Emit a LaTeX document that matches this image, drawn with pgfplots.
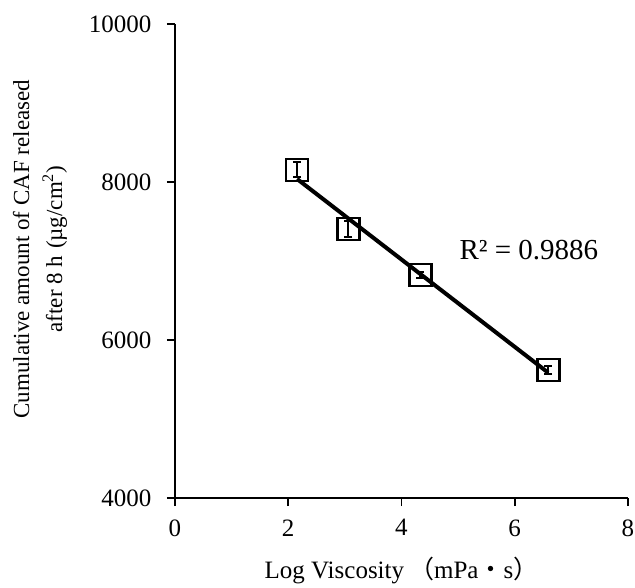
\documentclass[border=0pt]{standalone}
\usepackage{pgfplots}
\pgfplotsset{compat=1.18}
\usepackage{fontspec}
\setmainfont{Liberation Serif}
\newfontfamily\cjk{Noto Sans CJK JP}
\begin{document}
\begin{tikzpicture}
\useasboundingbox (-175pt,-89pt) rectangle (460pt,498pt);
\begin{axis}[
  at={(0,0)}, anchor=south west,
  width=453pt, height=474pt, scale only axis,
  axis lines*=left,
  xmin=0, xmax=8, ymin=4000, ymax=10000,
  xtick={0,2,4,6,8}, ytick={4000,6000,8000,10000},
  tick align=outside, major tick length=8pt,
  axis line style={line width=2.4pt},
  tick style={line width=1.8pt, black},
  scaled y ticks=false,
  /pgf/number format/assume math mode=true,
  yticklabel style={/pgf/number format/1000 sep={}, xshift=-12pt},
  xticklabel style={yshift=-10pt},
  font=\fontsize{25}{28}\selectfont,
  xlabel={Log Viscosity\hspace{0.2em}{\cjk （}mPa{\cjk ・}s{\cjk ）}},
  xlabel style={at={(axis description cs:0.5,0)}, anchor=base, yshift=-80pt},
  ylabel={Cumulative amount of CAF released\\after 8 h\hspace{0.3em}(µg/cm\textsuperscript{2})},
  ylabel style={align=center, at={(axis description cs:-0.298,0.525)}, anchor=center, font=\fontsize{23}{33}\selectfont},
  clip=false,
]
\addplot[black, line width=4pt] coordinates {(2.155,8039) (6.59,5587)};
\addplot[only marks, mark=square, mark size=11pt, mark options={line width=2.8pt, black, fill=none},
  error bars/.cd, y dir=both, y explicit, error bar style={line width=2pt, black}, error mark options={rotate=90, mark size=4pt, line width=2pt}]
  coordinates {
  (2.155,8152) +- (0,95)
  (3.06,7405) +- (0,100)
  (4.33,6823) +- (0,40)
  (6.59,5620) +- (0,50)
};
\node[anchor=center, font=\fontsize{29}{32}\selectfont] at (axis cs:6.25,7140) {R² = 0.9886};
\end{axis}
\end{tikzpicture}
\end{document}
